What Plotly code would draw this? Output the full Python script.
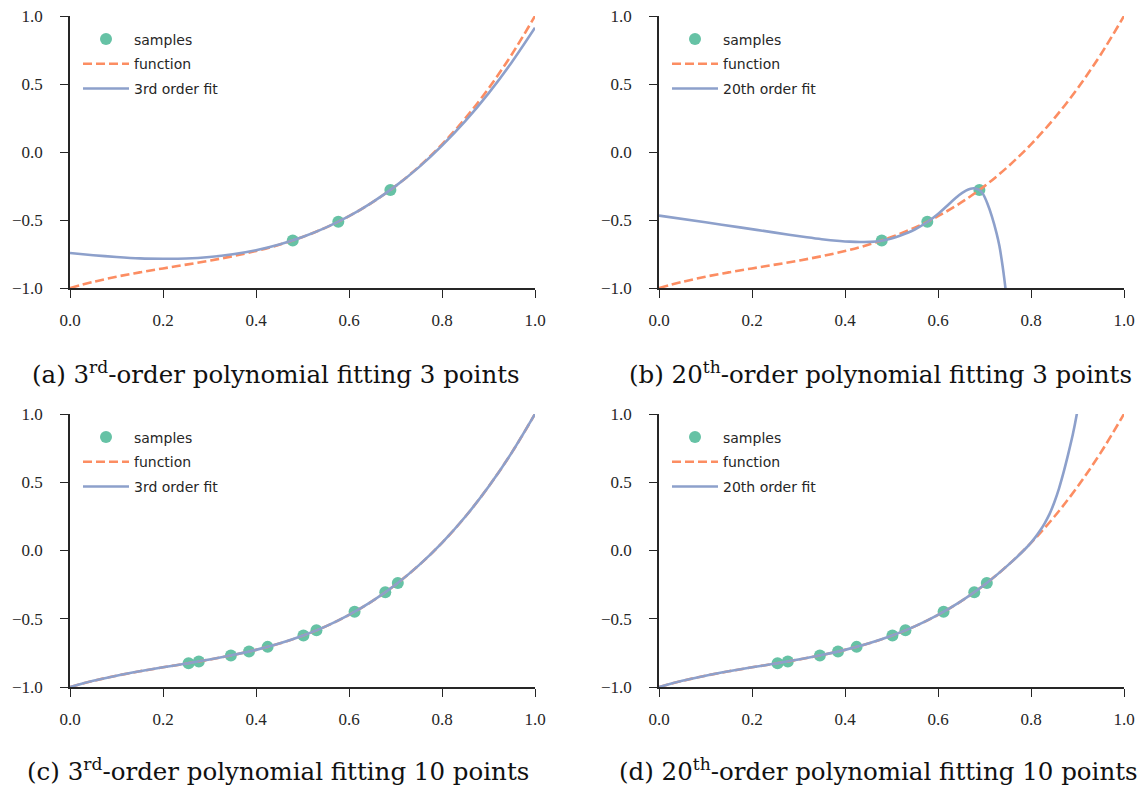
import plotly.graph_objects as go

# ---------------- data ----------------
x_grid = [0.00, 0.05, 0.10, 0.15, 0.20, 0.25, 0.30, 0.35, 0.40, 0.45, 0.50,
          0.55, 0.60, 0.65, 0.70, 0.75, 0.80, 0.85, 0.90, 0.95, 1.00]
function_y = [-1.000, -0.955, -0.917, -0.885, -0.856, -0.828, -0.799, -0.766, -0.728, -0.682, -0.625,
              -0.556, -0.472, -0.371, -0.251, -0.109, 0.056, 0.247, 0.467, 0.717, 1.000]

# (a) 3rd order fit, 3 points
samples3_x = [0.479, 0.577, 0.689]
samples3_y = [-0.650, -0.513, -0.279]
fit3_three_y = [-0.743, -0.759, -0.772, -0.782, -0.785, -0.783, -0.772, -0.752, -0.722, -0.680, -0.625,
                -0.556, -0.472, -0.370, -0.251, -0.113, 0.047, 0.227, 0.431, 0.660, 0.914]

# (b) 20th order fit, 3 points
fit20_three_x = [0.000, 0.100, 0.174, 0.246, 0.318, 0.350, 0.389, 0.410, 0.432, 0.455, 0.479, 0.500,
                 0.518, 0.550, 0.577, 0.600, 0.625, 0.645, 0.660, 0.670, 0.677, 0.683, 0.689, 0.697,
                 0.706, 0.716, 0.726, 0.732, 0.737, 0.741, 0.745, 0.750]
fit20_three_y = [-0.468, -0.517, -0.554, -0.591, -0.627, -0.641, -0.654, -0.659, -0.662, -0.661, -0.652, -0.636,
                 -0.616, -0.570, -0.515, -0.456, -0.378, -0.318, -0.284, -0.270, -0.267, -0.270, -0.279, -0.310,
                 -0.377, -0.475, -0.598, -0.690, -0.794, -0.890, -1.000, -1.200]

# (c) 3rd order fit, 10 points
samples10_x = [0.255, 0.277, 0.346, 0.385, 0.425, 0.502, 0.530, 0.612, 0.678, 0.705]
samples10_y = [-0.826, -0.814, -0.769, -0.740, -0.706, -0.623, -0.585, -0.449, -0.306, -0.238]
fit3_ten_y = [-1.000, -0.955, -0.917, -0.885, -0.856, -0.828, -0.799, -0.766, -0.728, -0.682, -0.625,
              -0.556, -0.472, -0.371, -0.251, -0.109, 0.056, 0.247, 0.467, 0.717, 1.000]

# (d) 20th order fit, 10 points
fit20_ten_x = [0.00, 0.05, 0.10, 0.15, 0.20, 0.25, 0.30, 0.35, 0.40, 0.45, 0.50,
               0.55, 0.60, 0.65, 0.70, 0.75, 0.79, 0.80, 0.81, 0.82, 0.83, 0.84, 0.85, 0.86, 0.87,
               0.88, 0.89, 0.90, 0.91, 0.92]
fit20_ten_y = [-1.000, -0.955, -0.917, -0.885, -0.856, -0.828, -0.799, -0.766, -0.728, -0.682, -0.625,
               -0.556, -0.472, -0.371, -0.251, -0.109, 0.020, 0.058, 0.100, 0.148, 0.203, 0.268, 0.352, 0.452, 0.572,
               0.706, 0.851, 1.027, 1.235, 1.480]

y_tick_vals = [-1.0, -0.5, 0.0, 0.5, 1.0]
y_tick_text = ["\u22121.0", "\u22120.5", "0.0", "0.5", "1.0"]
x_tick_vals = [0.0, 0.2, 0.4, 0.6, 0.8, 1.0]
x_tick_text = ["0.0", "0.2", "0.4", "0.6", "0.8", "1.0"]

captions = ["(a) 3<sup>rd</sup>-order polynomial fitting 3 points",
            "(b) 20<sup>th</sup>-order polynomial fitting 3 points",
            "(c) 3<sup>rd</sup>-order polynomial fitting 10 points",
            "(d) 20<sup>th</sup>-order polynomial fitting 10 points"]
fit_names = ["3rd order fit", "20th order fit", "3rd order fit", "20th order fit"]

# ---------------- styling ----------------
W, H = 1145, 789
C_SAMP = "#66c2a5"
C_FUNC = "#fc8d62"
C_FIT = "#8da0cb"
AX = "#262626"
TICKFONT = "Liberation Serif"
CAPFONT = "DejaVu Serif"
SANS = "DejaVu Sans"

panels = [
    dict(x0=70, x1=535, y0=16, y1=288, sx=samples3_x, sy=samples3_y, fx=x_grid, fy=fit3_three_y),
    dict(x0=659, x1=1124, y0=16, y1=288, sx=samples3_x, sy=samples3_y, fx=fit20_three_x, fy=fit20_three_y),
    dict(x0=70, x1=535, y0=414, y1=687, sx=samples10_x, sy=samples10_y, fx=x_grid, fy=fit3_ten_y),
    dict(x0=659, x1=1124, y0=414, y1=687, sx=samples10_x, sy=samples10_y, fx=fit20_ten_x, fy=fit20_ten_y),
]
cap_pos = [(276, 373), (880, 373), (278, 770), (878, 770)]

fig = go.Figure()
layout = dict(width=W, height=H, margin=dict(l=0, r=0, t=0, b=0, autoexpand=False),
              paper_bgcolor="white", plot_bgcolor="white", annotations=[], template="none")

for i, p in enumerate(panels):
    n = "" if i == 0 else str(i + 1)
    xa, ya = "x" + n, "y" + n
    lg = "legend" + n
    fig.add_trace(go.Scatter(x=p["sx"], y=p["sy"], mode="markers", name="samples",
                             marker=dict(color=C_SAMP, size=12, line=dict(width=0)),
                             xaxis=xa, yaxis=ya, legend=lg, legendgroup=f"s{i}"))
    fig.add_trace(go.Scatter(x=x_grid, y=function_y, mode="lines", name="function",
                             line=dict(color=C_FUNC, width=2.6, dash="9px,4px", shape="spline"),
                             xaxis=xa, yaxis=ya, legend=lg, legendgroup=f"f{i}"))
    fig.add_trace(go.Scatter(x=p["fx"], y=p["fy"], mode="lines", name=fit_names[i],
                             line=dict(color=C_FIT, width=2.6, shape="spline", smoothing=0.8),
                             xaxis=xa, yaxis=ya, legend=lg, legendgroup=f"t{i}"))
    xdom = [p["x0"] / W, p["x1"] / W]
    ydom = [1 - p["y1"] / H, 1 - p["y0"] / H]
    common = dict(showline=True, linecolor=AX, linewidth=1.6, mirror=False, showgrid=False,
                  zeroline=False, ticks="outside", ticklen=8, tickwidth=1.4, tickcolor=AX,
                  automargin=False,
                  tickfont=dict(family=TICKFONT, size=17, color=AX), fixedrange=True)
    layout["xaxis" + n] = dict(domain=xdom, range=[0, 1], anchor=ya, tickmode="array",
                               tickvals=x_tick_vals, ticktext=x_tick_text,
                               ticklabelstandoff=8, **common)
    layout["yaxis" + n] = dict(domain=ydom, range=[-1, 1], anchor=xa, tickmode="array",
                               tickvals=y_tick_vals, ticktext=y_tick_text,
                               ticklabelstandoff=14, **common)
    layout[lg] = dict(x=(p["x0"] + 8) / W, y=1 - (p["y0"] + 7.5) / H, xanchor="left", yanchor="top",
                      bgcolor="rgba(0,0,0,0)", borderwidth=0, tracegroupgap=3.5, itemwidth=46,
                      font=dict(family=SANS, size=14, color=AX))
    cx, cy = cap_pos[i]
    layout["annotations"].append(dict(text=captions[i], x=cx / W, y=1 - cy / H, xref="paper", yref="paper",
                                      xanchor="center", yanchor="middle", showarrow=False,
                                      font=dict(family=CAPFONT, size=24.5, color="#111111")))

fig.update_layout(**layout)
fig.write_html("out.html")
